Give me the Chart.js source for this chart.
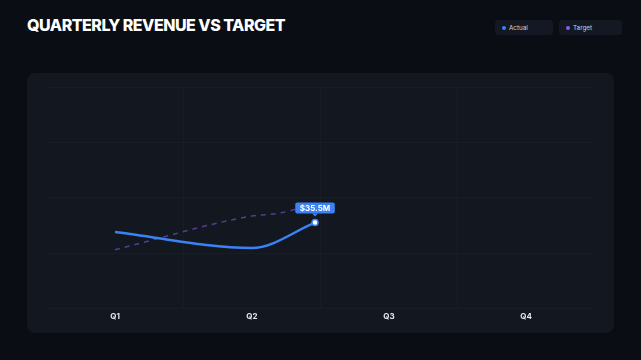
<!DOCTYPE html>
<html>
<head>
<meta charset="utf-8">
<script src="https://cdn.jsdelivr.net/npm/chart.js@4"></script>
<style>
  html, body { margin: 0; padding: 0; background: #0a0d14; width: 641px; height: 360px; overflow: hidden; font-family: Inter, "Noto Sans", sans-serif; }
  .title { position: absolute; left: 27px; top: 15px; color: #fff; font-size: 16px; font-weight: 800; letter-spacing: -0.5px; }
  .legend { position: absolute; top: 20px; left: 495px; display: flex; gap: 6px; }
  .pill { height: 15px; background: #141822; border-radius: 4px; display: flex; align-items: center; padding-left: 7px; color: #cfd3dc; font-size: 6.3px; box-sizing: border-box; }
  .pill i { width: 4px; height: 4px; border-radius: 50%; display: inline-block; margin-right: 3px; }
  .card { position: absolute; left: 27px; top: 73px; width: 587px; height: 260px; background: #131720; border-radius: 8px; }
  .card canvas { width: 100%; height: 100%; }
</style>
</head>
<body>
<div class="title">QUARTERLY REVENUE VS TARGET</div>
<div class="legend" id="legend"></div>
<div class="card"><canvas id="chart"></canvas></div>
<script>
const quarters = ['Q1', 'Q2', 'Q3', 'Q4'];
const seriesNames = ['Actual', 'Target'];
const seriesColors = ['#3b82f6', '#8b5cf6'];
// x in quarter units (0 = Q1); the lines stop part way into Q2-Q3
const actualX = [0, 1, 1.46];
const actualY = [33.8, 30.9, 35.5];   // $M
const targetX = [0, 1, 1.2, 1.46];
const targetY = [30.6, 36.7, 37.2, 39.0];   // $M

const pillWidths = [58, 63];
const legend = document.getElementById('legend');
seriesNames.forEach((n, i) => {
  legend.innerHTML += '<div class="pill" style="width:' + pillWidths[i] + 'px"><i style="background:' + seriesColors[i] + '"></i>' + n + '</div>';
});

const toXY = (xs, ys) => xs.map((x, i) => ({ x: x, y: ys[i] }));
const lastIdx = actualX.length - 1;

// label above last actual point
const valueTag = {
  id: 'valueTag',
  afterDatasetsDraw(chart) {
    const el = chart.getDatasetMeta(0).data[lastIdx];
    if (!el) return;
    const ctx = chart.ctx;
    const txt = '$' + actualY[lastIdx].toFixed(1) + 'M';
    ctx.save();
    ctx.font = 'bold 8px Inter, sans-serif';
    const w = ctx.measureText(txt).width + 9;
    const h = 11;
    const bx = el.x - w / 2, by = el.y - 20;
    ctx.fillStyle = '#3b82f6';
    ctx.beginPath();
    ctx.roundRect(bx, by, w, h, 2);
    ctx.fill();
    ctx.beginPath();
    ctx.moveTo(el.x - 3, by + h);
    ctx.lineTo(el.x + 3, by + h);
    ctx.lineTo(el.x, by + h + 3);
    ctx.fill();
    ctx.fillStyle = '#fff';
    ctx.textAlign = 'center';
    ctx.textBaseline = 'middle';
    ctx.fillText(txt, el.x, by + h / 2 + 0.5);
    ctx.restore();
  }
};

const gridCol = 'rgba(255,255,255,0.022)';

new Chart(document.getElementById('chart'), {
  type: 'line',
  data: {
    datasets: [{
      label: seriesNames[0],
      data: toXY(actualX, actualY),
      borderColor: seriesColors[0],
      borderWidth: 2.5,
      cubicInterpolationMode: 'monotone',
      pointRadius: c => c.dataIndex === lastIdx ? 3 : 0,
      pointBackgroundColor: '#ffffff',
      pointBorderColor: seriesColors[0],
      pointBorderWidth: 1.5
    }, {
      label: seriesNames[1],
      data: toXY(targetX, targetY),
      borderColor: 'rgba(139,92,246,0.55)',
      borderWidth: 1.5,
      borderDash: [5, 5],
      cubicInterpolationMode: 'monotone',
      pointRadius: 0
    }]
  },
  options: {
    responsive: true,
    maintainAspectRatio: false,
    animation: false,
    layout: { padding: { left: 19.5, right: 19.5, top: 14, bottom: 9 } },
    plugins: { legend: { display: false }, tooltip: { enabled: false } },
    scales: {
      x: {
        type: 'linear',
        min: -0.5,
        max: 3.5,
        afterBuildTicks: axis => {
          const t = [];
          for (let v = -0.5; v <= 3.5; v += 0.5) t.push({ value: v });
          axis.ticks = t;
        },
        ticks: {
          autoSkip: false,
          maxRotation: 0,
          padding: 3,
          color: '#e5e7eb',
          font: { family: 'Inter, sans-serif', size: 8, weight: 'bold' },
          callback: v => Number.isInteger(v) ? quarters[v] : ''
        },
        grid: {
          drawTicks: false,
          color: c => (c.tick && !Number.isInteger(c.tick.value) && c.tick.value > -0.5 && c.tick.value < 3.5) ? gridCol : 'rgba(0,0,0,0)'
        },
        border: { display: false }
      },
      y: {
        min: 20,
        max: 60,
        ticks: { display: false, stepSize: 10 },
        grid: { drawTicks: false, color: gridCol },
        border: { display: false }
      }
    }
  },
  plugins: [valueTag]
});
</script>
</body>
</html>
